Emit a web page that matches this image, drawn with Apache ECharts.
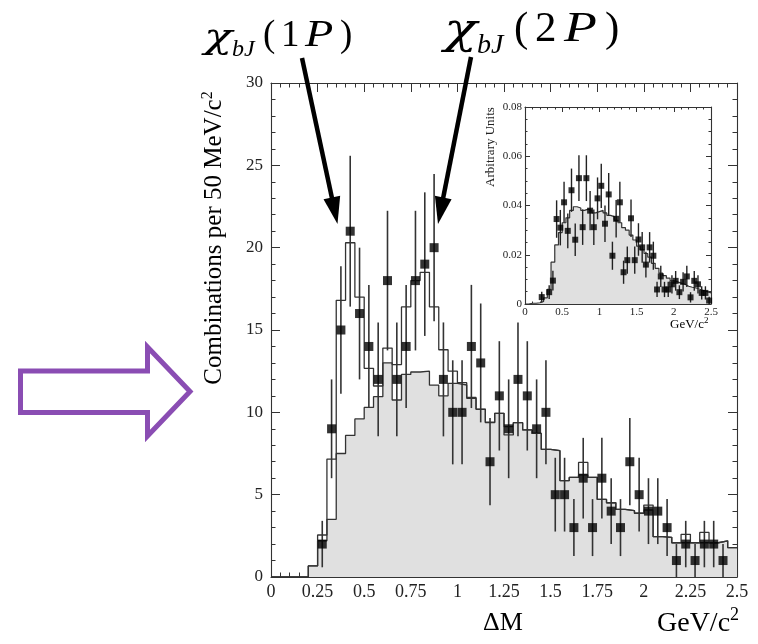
<!DOCTYPE html>
<html><head><meta charset="utf-8">
<script src="https://cdn.jsdelivr.net/npm/echarts@6/dist/echarts.min.js"></script>
<style>html,body{margin:0;padding:0;background:#fff}#c{width:758px;height:644px}</style>
</head><body><div id="c"></div>
<script>
// ---------- data ----------
const binWidth = 0.05;
// background (grey filled) histogram, 50 bins of 50 MeV from 0 to 2.5
const mainBgHist = [0,0,0,0,0.67,2.2,3.5,7.5,8.6,9.6,
  10.3,10.95,13.0,10.75,12.3,12.45,12.5,11.65,11.0,11.76,
  11.66,10.85,10.18,9.37,9.94,8.63,9.37,8.93,8.72,7.75,
  7.67,5.85,6.05,6.2,6.05,4.71,4.51,4.11,4.03,3.87,
  4.07,2.45,2.41,2.08,2.08,2.08,2.08,2.08,2.2,1.78];
// total (open) histogram
const mainTotHist = [0,0,0,0,0.67,2.55,7.16,16.8,20.3,17.0,
  12.67,11.6,13.9,12.9,16.4,18.0,18.5,16.4,13.8,12.5,
  11.8,10.9,10.2,9.4,9.94,9.13,9.37,8.93,8.72,7.75,
  7.67,5.85,6.05,6.96,6.05,4.71,4.51,4.11,4.03,3.87,
  4.37,2.45,2.41,2.08,2.59,2.08,2.71,2.08,2.2,1.78];
const mainPtX = [0.275,0.325,0.375,0.425,0.475,0.525,0.575,0.625,0.675,0.725,0.775,0.825,0.875,0.925,0.975,1.025,1.075,1.125,1.175,1.225,1.275,1.325,1.375,1.425,1.475,1.525,1.575,1.625,1.675,1.725,1.775,1.825,1.875,1.925,1.975,2.025,2.075,2.125,2.175,2.225,2.275,2.325,2.375,2.425];
const mainPtY = [2,9,15,21,16,14,12,18,12,14,18,19,20,12,10,10,14,13,7,11,9,12,11,9,10,5,5,3,6,3,6,4,3,7,5,4,4,3,1,2,1,2,2,1];
const mainPtErr = [1.41,3,3.87,4.58,4,3.74,3.46,4.24,3.46,3.74,4.24,4.36,4.47,3.46,3.16,3.16,3.74,3.61,2.65,3.32,3,3.46,3.32,3,3.16,2.24,2.24,1.73,2.45,1.73,2.45,2,1.73,2.65,2.24,2,2,1.73,1,1.41,1,1.41,1.41,1];
// inset
const insetHist = [0,0.0003,0.0003,0.0005,0.001,0.0025,0.006,0.017,0.024,0.029,
  0.033,0.035,0.038,0.0395,0.039,0.038,0.0385,0.038,0.037,0.0375,
  0.038,0.037,0.036,0.0355,0.034,0.033,0.031,0.03,0.028,0.026,
  0.0235,0.022,0.0205,0.019,0.0165,0.0145,0.0125,0.0115,0.0105,0.0095,
  0.009,0.0085,0.008,0.0072,0.0068,0.0065,0.006,0.0055,0.005,0.0045];
const insetPtX = [0.225,0.325,0.375,0.425,0.475,0.525,0.575,0.625,0.675,0.725,0.775,0.825,0.875,0.925,0.975,1.025,1.075,1.125,1.175,1.225,1.275,1.325,1.375,1.425,1.475,1.525,1.575,1.625,1.675,1.725,1.775,1.825,1.875,1.925,1.975,2.025,2.075,2.125,2.175,2.225,2.275,2.325,2.375,2.425,2.475];
const insetPtY = [0.0028,0.0048,0.0095,0.0345,0.031,0.0413,0.0297,0.0462,0.0261,0.0511,0.0312,0.0511,0.0379,0.0312,0.0429,0.048,0.0326,0.0445,0.0196,0.0346,0.0413,0.0129,0.0178,0.0348,0.0178,0.0262,0.023,0.016,0.023,0.0196,0.0059,0.0112,0.0059,0.0059,0.008,0.0094,0.0048,0.009,0.0112,0.0027,0.0094,0.008,0.0045,0.0045,0.0014];
const insetPtErr = [0.0022,0.0028,0.004,0.0076,0.0072,0.0083,0.0071,0.0088,0.0066,0.0093,0.0072,0.0093,0.008,0.0072,0.0085,0.009,0.0074,0.0087,0.0057,0.0076,0.0083,0.0047,0.0055,0.0076,0.0055,0.0066,0.0062,0.0052,0.0062,0.0057,0.0031,0.0043,0.0031,0.0031,0.0037,0.004,0.0028,0.0039,0.0043,0.0021,0.004,0.0037,0.0027,0.0027,0.0015];
const mainXTicks = ['0','0.25','0.5','0.75','1','1.25','1.5','1.75','2','2.25','2.5'];
const mainYTicks = ['0','5','10','15','20','25','30'];
const insetXTicks = ['0','0.5','1','1.5','2','2.5'];
const insetYTicks = ['0','0.02','0.04','0.06','0.08'];

// ---------- helpers ----------
const serif = '"Liberation Serif","Times New Roman",serif';
function histPoints(h){ const p=[]; h.forEach((v,i)=>{ p.push([i*binWidth,v]); p.push([(i+1)*binWidth,v]); }); return p; }
function errData(xs,ys,es){ return xs.map((x,i)=>[x, ys[i]-es[i], ys[i]+es[i]]); }
function errRender(color,w){ return function(params,api){
  const a=api.coord([api.value(0),api.value(1)]), b=api.coord([api.value(0),api.value(2)]);
  return {type:'line', shape:{x1:a[0],y1:a[1],x2:b[0],y2:b[1]}, style:{stroke:color,lineWidth:w}};
};}
function axis(opts){
  return {
    type:'value', gridIndex:opts.grid, min:opts.min, max:opts.max, interval:opts.interval,
    position:opts.pos,
    axisLine:{show:true,onZero:false,lineStyle:{color:'#333',width:1.1}},
    axisTick:{show:true,inside:true,length:opts.tick,lineStyle:{color:'#333',width:1}},
    minorTick:{show:true,splitNumber:opts.minor,length:opts.tick/2,lineStyle:{color:'#333',width:1}},
    splitLine:{show:false}, minorSplitLine:{show:false},
    axisLabel:{show:!!opts.labels, margin:opts.margin||8, fontFamily:serif, fontSize:opts.fs||15, color:'#222',
      formatter: opts.labels ? (v)=>opts.labels[Math.round((v-opts.min)/opts.interval)] : undefined}
  };
}

const chart = echarts.init(document.getElementById('c'), null, {renderer:'canvas'});
chart.setOption({
  animation:false,
  backgroundColor:'#fff',
  grid:[
    {left:271, top:83, width:466, height:494, outerBoundsMode:'none', containLabel:false},
    {left:525, top:107, width:186, height:197, outerBoundsMode:'none', containLabel:false}
  ],
  xAxis:[
    axis({grid:0,min:0,max:2.5,interval:0.25,pos:'bottom',tick:9,minor:5,labels:mainXTicks,fs:18,margin:6}),
    axis({grid:0,min:0,max:2.5,interval:0.25,pos:'top',tick:9,minor:5}),
    axis({grid:1,min:0,max:2.5,interval:0.5,pos:'bottom',tick:5,minor:5,labels:insetXTicks,fs:11,margin:3}),
    axis({grid:1,min:0,max:2.5,interval:0.5,pos:'top',tick:5,minor:5})
  ],
  yAxis:[
    axis({grid:0,min:0,max:30,interval:5,pos:'left',tick:9,minor:5,labels:mainYTicks,fs:17,margin:8}),
    axis({grid:0,min:0,max:30,interval:5,pos:'right',tick:9,minor:5}),
    axis({grid:1,min:0,max:0.08,interval:0.02,pos:'left',tick:5,minor:4,labels:insetYTicks,fs:11,margin:3}),
    axis({grid:1,min:0,max:0.08,interval:0.02,pos:'right',tick:5,minor:4})
  ],
  series:[
    {type:'line', xAxisIndex:0, yAxisIndex:0, data:histPoints(mainBgHist), showSymbol:false, symbol:'none',
     lineStyle:{color:'#333',width:1.3}, areaStyle:{color:'#e0e0e0',opacity:1}, z:1, silent:true},
    {type:'line', xAxisIndex:0, yAxisIndex:0, data:histPoints(mainTotHist), showSymbol:false, symbol:'none',
     lineStyle:{color:'#333',width:1.3}, z:2, silent:true},
    {type:'custom', xAxisIndex:0, yAxisIndex:0, data:errData(mainPtX,mainPtY,mainPtErr), renderItem:errRender('#333',1.6), z:3, silent:true},
    {type:'scatter', xAxisIndex:0, yAxisIndex:0, data:mainPtX.map((x,i)=>[x,mainPtY[i]]), symbol:'rect', symbolSize:9,
     itemStyle:{color:'#000'}, z:4, silent:true},
    {type:'line', xAxisIndex:2, yAxisIndex:2, data:histPoints(insetHist), showSymbol:false, symbol:'none',
     lineStyle:{color:'#333',width:1.2}, areaStyle:{color:'#e0e0e0',opacity:1}, z:1, silent:true},
    {type:'custom', xAxisIndex:2, yAxisIndex:2, data:errData(insetPtX,insetPtY,insetPtErr), renderItem:errRender('#222',1.4), z:3, silent:true},
    {type:'scatter', xAxisIndex:2, yAxisIndex:2, data:insetPtX.map((x,i)=>[x,insetPtY[i]]), symbol:'rect', symbolSize:6,
     itemStyle:{color:'#000'}, z:4, silent:true}
  ]
});

// ---------- annotations ----------
function blackArrow(p0,p1,headLen,headHalf,w){
  const dx=p1[0]-p0[0], dy=p1[1]-p0[1], L=Math.hypot(dx,dy), ux=dx/L, uy=dy/L, px=-uy, py=ux;
  const bx=p1[0]-ux*headLen, by=p1[1]-uy*headLen;
  return [
    {type:'line', shape:{x1:p0[0],y1:p0[1],x2:bx+ux*2,y2:by+uy*2}, style:{stroke:'#000',lineWidth:w}, z:10},
    {type:'polygon', shape:{points:[[p1[0],p1[1]],[bx+px*headHalf,by+py*headHalf],[bx-px*headHalf,by-py*headHalf]]}, style:{fill:'#000'}, z:10}
  ];
}
const ASC = 0.88;
// text placed by its baseline (converted to a top-aligned position)
function glyph(x,base,s,size,italic,sx,fam){
  return {type:'text', x:x, y:base-ASC*size, scaleX:sx||1, z:10,
    style:{text:s, font:(italic?'italic ':'')+size+'px '+(fam||serif), fill:'#000', textAlign:'left', textVerticalAlign:'top', align:'left', verticalAlign:'top'}};
}
const chiFam = '"DejaVu Serif",serif';
const g = [];
// chi_bJ(1P)
g.push(glyph(204,52,'χ',36,true,1.3,chiFam));
g.push(glyph(232,59,'bJ',24,true));
g.push(glyph(263,50,'(',37,false));
g.push(glyph(281,50,'1',37,false));
g.push(glyph(305,50,'P',37,true,1.25));
g.push(glyph(340,50,')',37,false));
// chi_bJ(2P)
g.push(glyph(444,48,'χ',42,true,1.3,chiFam));
g.push(glyph(477,56,'bJ',28,true));
g.push(glyph(514,46,'(',43,false));
g.push(glyph(535,46,'2',43,false));
g.push(glyph(564,46,'P',43,true,1.25));
g.push(glyph(605,46,')',43,false));
g.push(...blackArrow([302,58],[337.5,224],27,8.5,4.5));
g.push(...blackArrow([471,57],[438,224],27,8.5,4.5));
// axis titles
g.push({type:'text', x:214, y:238, rotation:Math.PI/2, z:10,
  style:{text:'{a|Combinations per 50 MeV/c}{s|2}', textAlign:'center', textVerticalAlign:'middle', align:'center', verticalAlign:'middle',
    rich:{a:{fontFamily:serif,fontSize:25,lineHeight:28,fill:'#000',color:'#000'}, s:{fontFamily:serif,fontSize:16,lineHeight:28,verticalAlign:'top',fill:'#000',color:'#000'}}}});
g.push(glyph(483,633,'ΔM',26,false));
g.push({type:'text', x:657, y:606, z:10,
  style:{text:'{a|GeV/c}{s|2}', textAlign:'left', textVerticalAlign:'top', align:'left', verticalAlign:'top',
    rich:{a:{fontFamily:serif,fontSize:28,lineHeight:32,verticalAlign:'bottom'}, s:{fontFamily:serif,fontSize:18,lineHeight:32,verticalAlign:'top'}}}});
g.push({type:'text', x:491, y:147, rotation:Math.PI/2, z:10,
  style:{text:'Arbitrary Units', font:'13px '+serif, fill:'#222', textAlign:'center', textVerticalAlign:'middle', align:'center', verticalAlign:'middle'}});
g.push({type:'text', x:670, y:316, z:10,
  style:{text:'{a|GeV/c}{s|2}', textAlign:'left', textVerticalAlign:'top', align:'left', verticalAlign:'top',
    rich:{a:{fontFamily:serif,fontSize:13,lineHeight:15,verticalAlign:'bottom'}, s:{fontFamily:serif,fontSize:9,lineHeight:15,verticalAlign:'top'}}}});
// purple hollow arrow
g.push({type:'polygon', z:10, shape:{points:[[20.5,371],[147.5,371],[147.5,347],[190,391.5],[147.5,436],[147.5,412.5],[20.5,412.5]]},
  style:{fill:'none', stroke:'#8a4db3', lineWidth:5, lineJoin:'miter'}});
chart.setOption({graphic:g});
</script></body></html>
